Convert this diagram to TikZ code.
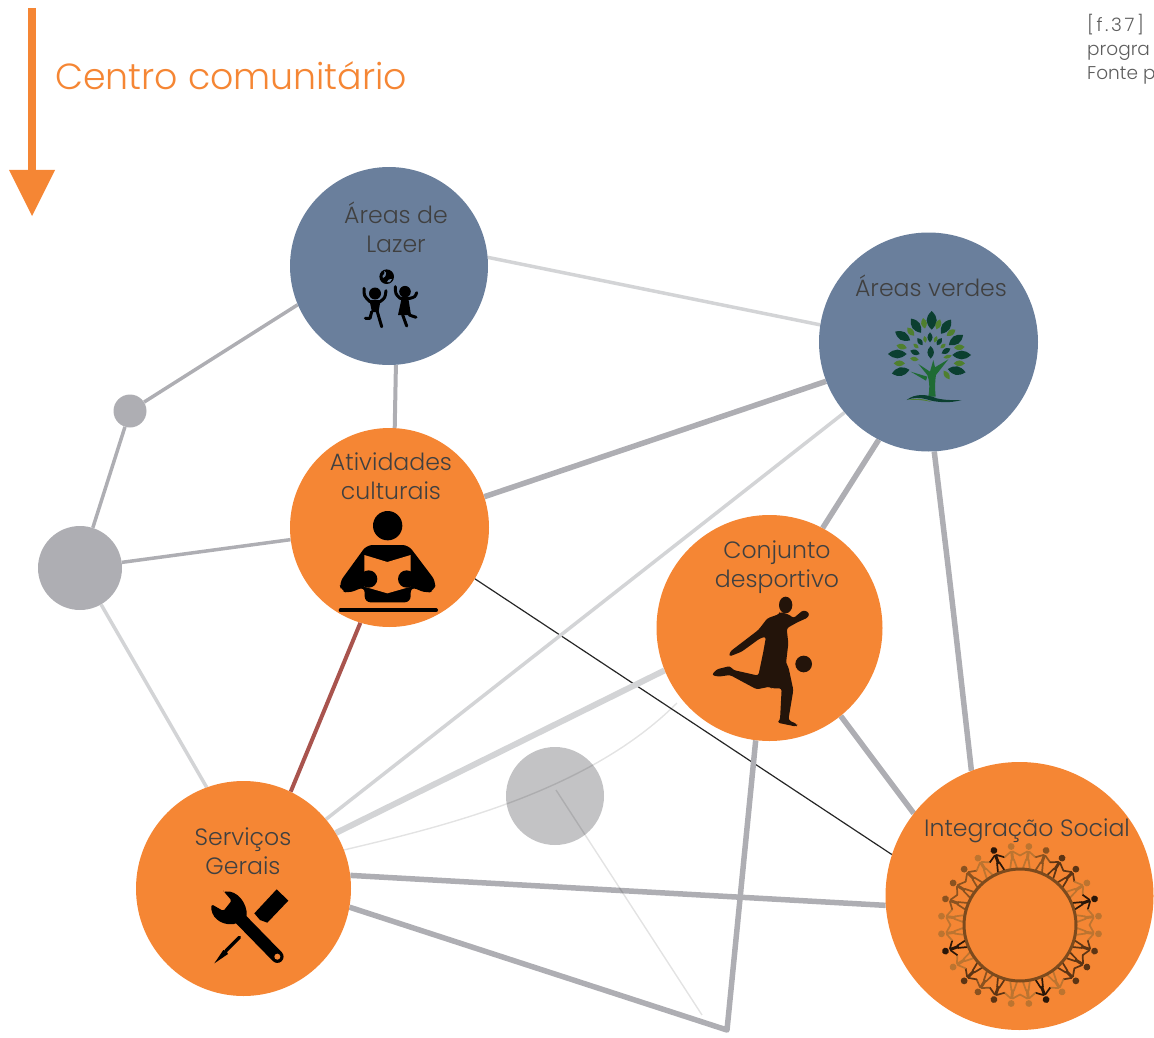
\documentclass[tikz,border=0pt]{standalone}
\usepackage{fontspec}
\setmainfont{Poppins Light}
\usetikzlibrary{backgrounds}
\definecolor{orangec}{HTML}{F58634}
\definecolor{bluec}{HTML}{6A7F9C}
\definecolor{greyA}{HTML}{AEAEB3}
\definecolor{greyL}{HTML}{D3D4D6}
\definecolor{greyC}{HTML}{C3C3C5}
\definecolor{redc}{HTML}{A9544E}
\definecolor{textc}{HTML}{404040}
\definecolor{leafD}{HTML}{0B3F30}
\definecolor{leafG}{HTML}{4F7F2E}
\definecolor{trunkc}{HTML}{1F6B34}
\definecolor{soccerc}{HTML}{23140A}
\definecolor{pa}{HTML}{2A1608}
\definecolor{pb}{HTML}{5C3414}
\definecolor{pc}{HTML}{8A5220}
\definecolor{pd}{HTML}{BC7430}
\newcommand{\leafshape}[6]{\fill[#6,shift={(#1,#2)},rotate=#3] ({-#4},0) .. controls ({-0.3*#4},{-1.45*#5}) and ({0.3*#4},{-1.45*#5}) .. ({#4},0) .. controls ({0.3*#4},{1.45*#5}) and ({-0.3*#4},{1.45*#5}) .. cycle;}
\tikzset{
  hub/.style={circle,inner sep=0pt,fill=#1},
  lbl/.style={text=textc,align=center,font=\fontsize{23.6}{29}\selectfont,inner sep=0pt,anchor=center},
  captext/.style={anchor=base west,inner sep=0pt,text=textc!85,font=\fontsize{18.5}{20}\selectfont},
  edgeA/.style={draw=greyA,line width=#1},
  edgeL/.style={draw=greyL,line width=#1},
  faint/.style={draw=black,opacity=.11,line width=1.4pt},
}
\begin{document}
\begin{tikzpicture}[x=1pt,y=-1pt]
\useasboundingbox (0,0) rectangle (1154,1038);

% arrow
\coordinate (arrowtop) at (32,8);
\coordinate (arrowhead) at (32,172);
\draw[orangec,line width=8pt] (arrowtop) -- (arrowhead);
\fill[orangec] (9,170) -- (55,170) -- (32,216) -- cycle;
\node[anchor=base west,inner sep=0pt,text=orangec,font=\fontsize{36.3}{40}\selectfont] (title) at (55,90) {Centro comunitário};

% top right caption
\node[captext] (capA) at (1087,32) {\addfontfeature{LetterSpace=14}[f.37]};
\node[captext] (capB) at (1087,56) {progra};
\node[captext] (capC) at (1087,80) {Fonte p};

% hubs
\node[hub=bluec,minimum size=198pt] (lazer) at (389,266) {};
\node[hub=bluec,minimum size=219pt] (verdes) at (928.5,342) {};
\node[hub=orangec,minimum size=199pt] (ativ) at (389.5,527.5) {};
\node[hub=orangec,minimum size=226pt] (conj) at (769.5,628) {};
\node[hub=orangec,minimum size=268pt] (integ) at (1019.5,896) {};
\node[hub=orangec,minimum size=215pt] (serv) at (243.5,888.5) {};
\node[hub=greyA,minimum size=33pt] (small) at (130,411) {};
\node[hub=greyA,minimum size=84pt] (big) at (80,568) {};
\node[hub=greyC,minimum size=98pt] (gray) at (555,796) {};
\coordinate (bend) at (727,1030);
\coordinate (curveEnd) at (677,703);
\coordinate (lineStart) at (556,790);
\coordinate (lineEnd) at (702,1015);

\begin{pgfonlayer}{background}
\draw[edgeL=3.5pt] (lazer.5.8) -- (verdes.171);
\draw[edgeA=4pt] (lazer.-86) -- (ativ.87.4);
\draw[edgeA=3.5pt] (lazer.203) -- (small);
\draw[edgeA=3.5pt] (small) -- (big);
\draw[edgeA=3.5pt] (big) -- (ativ.187);
\draw[edgeL=3.5pt] (big) -- (serv.110.8);
\draw[edgeA=5.5pt] (ativ.18) -- (verdes.201);
\draw[redc,line width=4pt] (ativ.253) -- (serv.64.5);
\draw[black!85,line width=1.2pt] (ativ.-31.9) -- (integ.162);
\draw[edgeA=5.5pt] (verdes.243.4) -- (conj.62.8);
\draw[edgeA=5.5pt] (verdes.273) .. controls (951,590) .. (integ.111.8);
\draw[edgeL=3.5pt] (verdes.220) -- (serv.40);
\draw[edgeL=6pt] (conj.202.8) -- (serv.31.7);
\draw[edgeA=5.5pt] (conj.-51.3) -- (integ.142.5);
\draw[edgeA=5.5pt,line join=round] (conj.263.6) -- (bend) -- (serv.-10.6);
\draw[edgeA=5.5pt] (serv.7.2) -- (integ.184.7);
\end{pgfonlayer}
\draw[faint] (serv.21) .. controls (450,825) and (590,790) .. (curveEnd);
\draw[faint] (lineStart) -- (lineEnd);

% labels
\node[lbl] (tLazer) at (396,227.5) {Áreas de\\Lazer};
\node[lbl] (tVerdes) at (931,285.5) {Áreas verdes};
\node[lbl] (tAtiv) at (391,476) {Atividades\\culturais};
\node[lbl] (tConj) at (777,567.5) {Conjunto\\desportivo};
\node[lbl] (tServ) at (243,851) {Serviços\\Gerais};
\node[lbl] (tInteg) at (1027,831) {Integração Social};

% kids icon
\begin{scope}[black,line cap=round,line join=round,line width=3pt]
\fill (386.7,276.7) circle (7.3);
\fill[bluec] (382.5,276) .. controls (385,273) .. (384,271) -- (386,272.5) .. controls (386,276) .. (383,278) -- cycle;
\fill[bluec] (387,282) .. controls (389,279) .. (392,279) -- (390,282) -- cycle;
\fill (375,293.5) circle (6) (405,291.7) circle (5.8);
\draw (364,288.3) .. controls (364,296) .. (370,301.7) -- (380,301.7) .. controls (385,298) .. (386,290.7);
\fill (369.5,300.5) -- (380.5,300.5) -- (378.5,312) -- (372,312) -- cycle;
\draw (371.7,311.7) -- (370,318.3) -- (365.3,318.3);
\draw (377.3,311.7) -- (381.7,326.7);
\draw (395.3,286.7) .. controls (395.5,294) .. (400,298.3) -- (410,298.3) .. controls (415,297) .. (416.7,292.7);
\fill (401.7,298) -- (408.3,298) -- (411,315) -- (398,315) -- cycle;
\draw (402.7,315) -- (406.7,326);
\draw (409.3,315) -- (416,317.3);
\end{scope}

% tree icon
\begin{scope}[shift={(820,260)},scale=1/3]
\foreach \x/\y/\r/\a/\b in {335/181/90/28/14,288/197/125/26/12,378/200/55/26/12,248/228/150/26/12,408/240/35/26/12,232/282/0/28/12,425/285/0/28/12,242/335/12/27/12,410/332/-10/27/12,330/232/90/15/7,300/245/125/13/6.5,358/245/55/13/6.5,285/277/-20/15/7.5,378/273/30/15/7.5,332/277/90/19/9}
  {\leafshape{\x}{\y}{\r}{\a}{\b}{leafD}}
\foreach \x/\y/\r/\a/\b in {312/190/100/16/8,355/193/70/16/8,272/215/130/16/8,393/218/35/16/8,245/260/165/16/8,418/262/5/16/8,238/310/0/17/8,418/310/0/17/8,315/238/100/10/5,347/238/70/10/5,288/258/140/10/5,369/258/40/10/5,283/297/-10/13/6,383/290/15/13/5,380/345/-55/16/7}
  {\leafshape{\x}{\y}{\r}{\a}{\b}{leafG}}
\fill[trunkc] (325,410) .. controls (330,380) and (328,360) .. (322,345) -- (295,312) -- (330,335) -- (340,300) -- (345,322) -- (385,298) -- (348,345) .. controls (344,370) and (345,390) .. (347,410) -- cycle;
\fill[trunkc] (322,350) -- (272,335) -- (318,362) -- cycle;
\fill[leafD] (260,420) .. controls (285,400) and (320,402) .. (350,415) .. controls (380,422) and (405,420) .. (425,420) .. controls (390,430) and (350,428) .. (320,418) .. controls (300,412) and (280,412) .. (260,420) -- cycle;
\fill[leafG] (262,420) .. controls (285,414) and (315,416) .. (335,426) .. controls (310,420) and (285,418) .. (262,420) -- cycle;
\end{scope}

% reader icon
\begin{scope}[shift={(300,440)},scale=1/3]
\fill[black] (263,257) circle (44);
\fill[black,rounded corners=6pt] (200,315) -- (325,315) -- (408,425) -- (403,452) -- (380,460) -- (332,440) -- (332,487) -- (194,487) -- (194,440) -- (145,460) -- (123,452) -- (118,428) -- cycle;
\fill[orangec] (193,345) -- (262,366) -- (332,345) -- (332,440) -- (262,460) -- (193,440) -- cycle;
\fill[black] (206,417) circle (26) (320,417) circle (26);
\draw[black,line width=4pt,line cap=round] (122,511) -- (408,511);
\end{scope}

% soccer icon
\begin{scope}[shift={(680,530)},scale=1/3]
\fill[soccerc] (317,225) ellipse [x radius=20,y radius=25];
\fill[soccerc,rounded corners=2.5pt] (300,245) -- (298,252) -- (262,265) -- (235,300) -- (150,365) -- (147,380) -- (185,365) -- (240,325) -- (258,320) -- (250,365) -- (235,437) -- (160,420) -- (150,408) -- (110,418) -- (95,435) -- (115,440) -- (150,435) -- (230,478) -- (270,470) -- (275,475) -- (305,475) -- (300,570) -- (292,578) -- (350,590) -- (352,583) -- (325,570) -- (340,480) -- (325,410) -- (318,400) -- (325,340) -- (320,295) -- (350,278) -- (385,262) -- (388,248) -- (370,240) -- (340,265) -- (330,255) -- cycle;
\fill[soccerc] (371,402) circle (25);
\end{scope}

% tools icon
\begin{scope}[shift={(160,810)},scale=1/3]
\draw[black,line width=12.5pt,line cap=round] (225,310) -- (352,440);
\fill[black,rounded corners=1.5pt] (192,245) -- (215,272) -- (190,303) -- (155,283) .. controls (150,318) and (180,347) .. (225,342) -- (260,320) .. controls (262,280) and (232,240) .. cycle;
\fill[orangec] (352,440) circle (9);
\fill[black] (350,238) -- (385,272) -- (322,338) -- (300,330) -- (283,310) -- cycle;
\draw[black,line width=3.4pt,line cap=round] (238,382) -- (198,422);
\fill[black] (190,420) .. controls (196,418) and (203,425) .. (204,432) -- (163,460) -- cycle;
\end{scope}

% people ring icon
\begin{scope}[shift={(1020,925)}]
\foreach \a/\c in {83.57/pd,70.71/pc,57.86/pb,45/pb,32.14/pd,19.29/pa,6.43/pd,-6.43/pd,-19.29/pb,-32.14/pb,-45/pb,-57.86/pd,-70.71/pa,-83.57/pd,-96.43/pd,-109.29/pb,-122.14/pc,-135/pb,-147.86/pd,-160.71/pa,-173.57/pd,173.57/pd,160.71/pc,147.86/pc,135/pc,122.14/pd,109.29/pa,96.43/pd}{
  \fill[\c,rotate=\a] (79,0) circle (3.4);
  \draw[\c,rotate=\a,line width=1.7pt,line join=round]
     (57,-3.4) -- (66,-1.2) -- (66,1.2) -- (57,3.4)
     (74,-.8) -- (69,-7.9)
     (74,.8) -- (69,7.9);
  \draw[\c,rotate=\a,line width=3pt] (65,0) -- (74.5,0);
}
\draw[pc!90!black,line width=3pt] (0,0) circle (56);
\end{scope}
\end{tikzpicture}
\end{document}
